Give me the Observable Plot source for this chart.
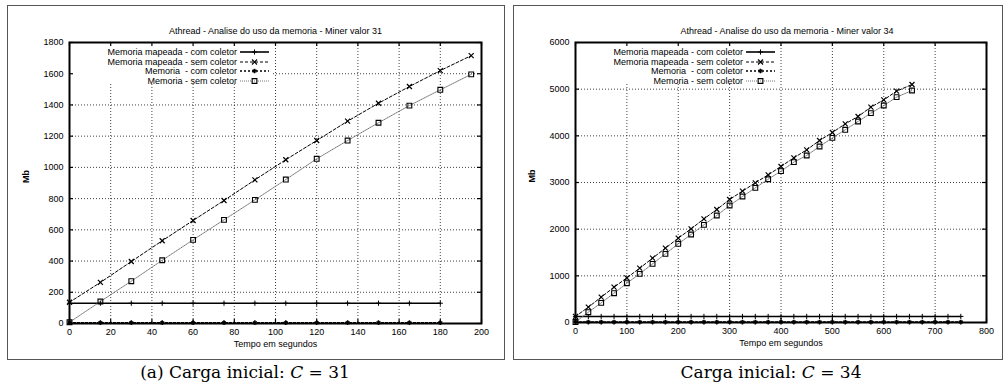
<!DOCTYPE html>
<html><head><meta charset="utf-8">
<script src="https://cdn.jsdelivr.net/npm/d3@7"></script>
<script src="https://cdn.jsdelivr.net/npm/@observablehq/plot@0.6"></script>
<style>
body{margin:0;background:#fff;width:1006px;height:387px;position:relative;overflow:hidden;font-family:"Liberation Sans",Arial,sans-serif}
.panel{position:absolute;outline:1.5px solid #555;outline-offset:-1px}
.panel svg{display:block}
.cap{position:absolute;font-family:"DejaVu Serif",serif;font-size:17px;white-space:nowrap;transform:translate(-50%,-50%)}
</style></head><body>
<div id="p1" class="panel" style="left:7px;top:5px;width:498px;height:355px"></div>
<div id="p2" class="panel" style="left:513px;top:5px;width:490px;height:355px"></div>
<div class="cap" style="left:245px;top:372px">(a) Carga inicial: <i>C</i> = 31</div>
<div class="cap" style="left:771px;top:372px">Carga inicial: <i>C</i> = 34</div>
<script>
// ---- Data: panel (a), Miner valor 31 ----
const titleA = "Athread - Analise do uso da memoria - Miner valor 31";
const xTicksA = [0,20,40,60,80,100,120,140,160,180,200];
const yTicksA = [0,200,400,600,800,1000,1200,1400,1600,1800];
const tSemA = [0,15,30,45,60,75,90,105,120,135,150,165,180,195];
const mapSemA = [136,263,397,530,660,788,920,1049,1172,1296,1411,1518,1620,1716];
const memSemA = [8,141,271,405,536,664,792,922,1055,1172,1286,1396,1497,1596];
const tComA = [0,15,30,45,60,75,90,105,120,135,150,165,180];
const mapComA = [130,130,130,130,130,130,130,130,130,130,130,130,130];
const memComA = [5,5,5,5,5,5,5,5,5,5,5,5,5];

// ---- Data: panel (b), Miner valor 34 ----
const titleB = "Athread - Analise do uso da memoria - Miner valor 34";
const xTicksB = [0,100,200,300,400,500,600,700,800];
const yTicksB = [0,1000,2000,3000,4000,5000,6000];
const tSemB = [0,25,50,75,100,125,150,175,200,225,250,275,300,325,350,375,400,425,450,475,500,525,550,575,600,625,655];
const mapSemB = [130,329,543,757,957,1164,1379,1593,1807,2007,2221,2421,2636,2815,2993,3164,3343,3529,3700,3900,4071,4257,4414,4614,4771,4957,5100];
const memSemB = [10,221,421,628,842,1043,1257,1471,1686,1886,2093,2293,2507,2700,2886,3070,3243,3436,3579,3771,3957,4129,4307,4486,4650,4829,4971];
const tComB = [0,25,50,75,100,125,150,175,200,225,250,275,300,325,350,375,400,425,450,475,500,525,550,575,600,625,650,675,700,725,750];
const mapComB = [130,130,130,130,130,130,130,130,130,130,130,130,130,130,130,130,130,130,130,130,130,130,130,130,130,130,130,130,130,130,130];
const memComB = [10,10,10,10,10,10,10,10,10,10,10,10,10,10,10,10,10,10,10,10,10,10,10,10,10,10,10,10,10,10,10];

const seriesNames = ["Memoria mapeada - com coletor","Memoria mapeada - sem coletor","Memoria  - com coletor","Memoria - sem coletor"];
const xLabel = "Tempo em segundos";
const yLabel = "Mb";

const styles = [
  {stroke:"#000", strokeWidth:1.6, dash:null, symbol:"plus", r:1.8, sw:1},
  {stroke:"#000", strokeWidth:1, dash:"3,2", symbol:"times", r:2.4, sw:1.2},
  {stroke:"#000", strokeWidth:1.4, dash:"2,2", symbol:"asterisk", r:2.2, sw:1.5},
  {stroke:"#666", strokeWidth:0.9, dash:"1,1", symbol:"square", r:2.7, sw:1.1}
];
const symMap = {plus:d3.symbolPlus, times:d3.symbolTimes, asterisk:d3.symbolAsterisk, square:d3.symbolSquare};

function chart(el, cfg) {
  const {width, height, ml, mr, mt, mb, xTicks, yTicks, title, titleDx, series} = cfg;
  const fw = width - ml - mr, fh = height - mt - mb;
  const marks = [
    Plot.ruleX(xTicks.slice(1, -1), {stroke:"#111", strokeDasharray:"1,2", strokeWidth:0.8}),
    Plot.ruleY(yTicks.slice(1, -1), {stroke:"#111", strokeDasharray:"1,2", strokeWidth:0.8}),
    Plot.ruleX(xTicks, {insetTop: fh - 4, stroke:"#000", strokeWidth:1.2}),
    Plot.ruleX(xTicks, {insetBottom: fh - 4, stroke:"#000", strokeWidth:1.2}),
    Plot.ruleY(yTicks, {insetRight: fw - 4, stroke:"#000", strokeWidth:1.2}),
    Plot.ruleY(yTicks, {insetLeft: fw - 4, stroke:"#000", strokeWidth:1.2})
  ];
  series.forEach((s, i) => {
    const st = styles[i];
    marks.push(Plot.line(s.t, {x: s.t, y: s.v, stroke: st.stroke, strokeWidth: st.strokeWidth, strokeDasharray: st.dash}));
  });
  series.forEach((s, i) => {
    const st = styles[i];
    marks.push(Plot.dot(s.t, {x: s.t, y: s.v, symbol: st.symbol, r: st.r, stroke: "#000", strokeWidth: st.sw, fill: "none"}));
  });
  marks.push(
    Plot.frame({stroke:"#000", strokeWidth:2}),
    Plot.axisX(xTicks, {tickSize:0, tickPadding:5, tickFormat:d => String(d), label:null, fontSize:9}),
    Plot.axisY(yTicks, {tickSize:0, tickPadding:6, tickFormat:d => String(d), label:null, fontSize:9}),
    Plot.text([xLabel], {frameAnchor:"bottom", dy:23, fontSize:9}),
    Plot.text([yLabel], {frameAnchor:"left", dx:-43, rotate:-90, fontSize:9, fontWeight:"bold"}),
    Plot.text([title], {frameAnchor:"top", lineAnchor:"bottom", dy:-9, dx:titleDx, fontSize:9})
  );
  const svg = Plot.plot({
    width, height, marginLeft:ml, marginRight:mr, marginTop:mt, marginBottom:mb,
    style:{fontFamily:'"Liberation Sans",Arial,sans-serif', fontSize:"9px", color:"#000", background:"#fff"},
    x:{domain:[xTicks[0], xTicks[xTicks.length-1]]},
    y:{domain:[yTicks[0], yTicks[yTicks.length-1]]},
    marks
  });
  el.appendChild(svg);
  // legend mask over the grid (inserted right after the two grid groups)
  const groups = Array.from(svg.children).filter(n => n.tagName.toLowerCase() === "g");
  const rect = document.createElementNS("http://www.w3.org/2000/svg", "rect");
  rect.setAttribute("x", ml); rect.setAttribute("y", mt);
  rect.setAttribute("width", 204); rect.setAttribute("height", 41); rect.setAttribute("fill", "#fff");
  svg.insertBefore(rect, groups[2]);
  const lg = d3.select(svg).append("g").attr("font-size", 9).attr("font-family", '"Liberation Sans",Arial,sans-serif');
  const rows = [47, 57, 66, 76];
  seriesNames.forEach((name, i) => {
    const st = styles[i], y = rows[i];
    lg.append("text").attr("x", 230).attr("y", y).attr("dy", "0.33em").attr("text-anchor", "end").text(name);
    lg.append("line").attr("x1", 233).attr("x2", 262).attr("y1", y).attr("y2", y)
      .attr("stroke", st.stroke).attr("stroke-width", st.strokeWidth).attr("stroke-dasharray", st.dash);
    lg.append("path").attr("transform", `translate(247.5,${y})`)
      .attr("d", d3.symbol(symMap[st.symbol], Math.PI * st.r * st.r)())
      .attr("fill", "none").attr("stroke", "#000").attr("stroke-width", st.sw);
  });
}

chart(document.getElementById("p1"), {
  width:498, height:355, ml:62, mr:24, mt:37, mb:37,
  xTicks:xTicksA, yTicks:yTicksA, title:titleA, titleDx:0,
  series:[{t:tComA, v:mapComA}, {t:tSemA, v:mapSemA}, {t:tComA, v:memComA}, {t:tSemA, v:memSemA}]
});
chart(document.getElementById("p2"), {
  width:490, height:355, ml:62, mr:17, mt:37, mb:38,
  xTicks:xTicksB, yTicks:yTicksB, title:titleB, titleDx:6,
  series:[{t:tComB, v:mapComB}, {t:tSemB, v:mapSemB}, {t:tComB, v:memComB}, {t:tSemB, v:memSemB}]
});
</script>
</body></html>
